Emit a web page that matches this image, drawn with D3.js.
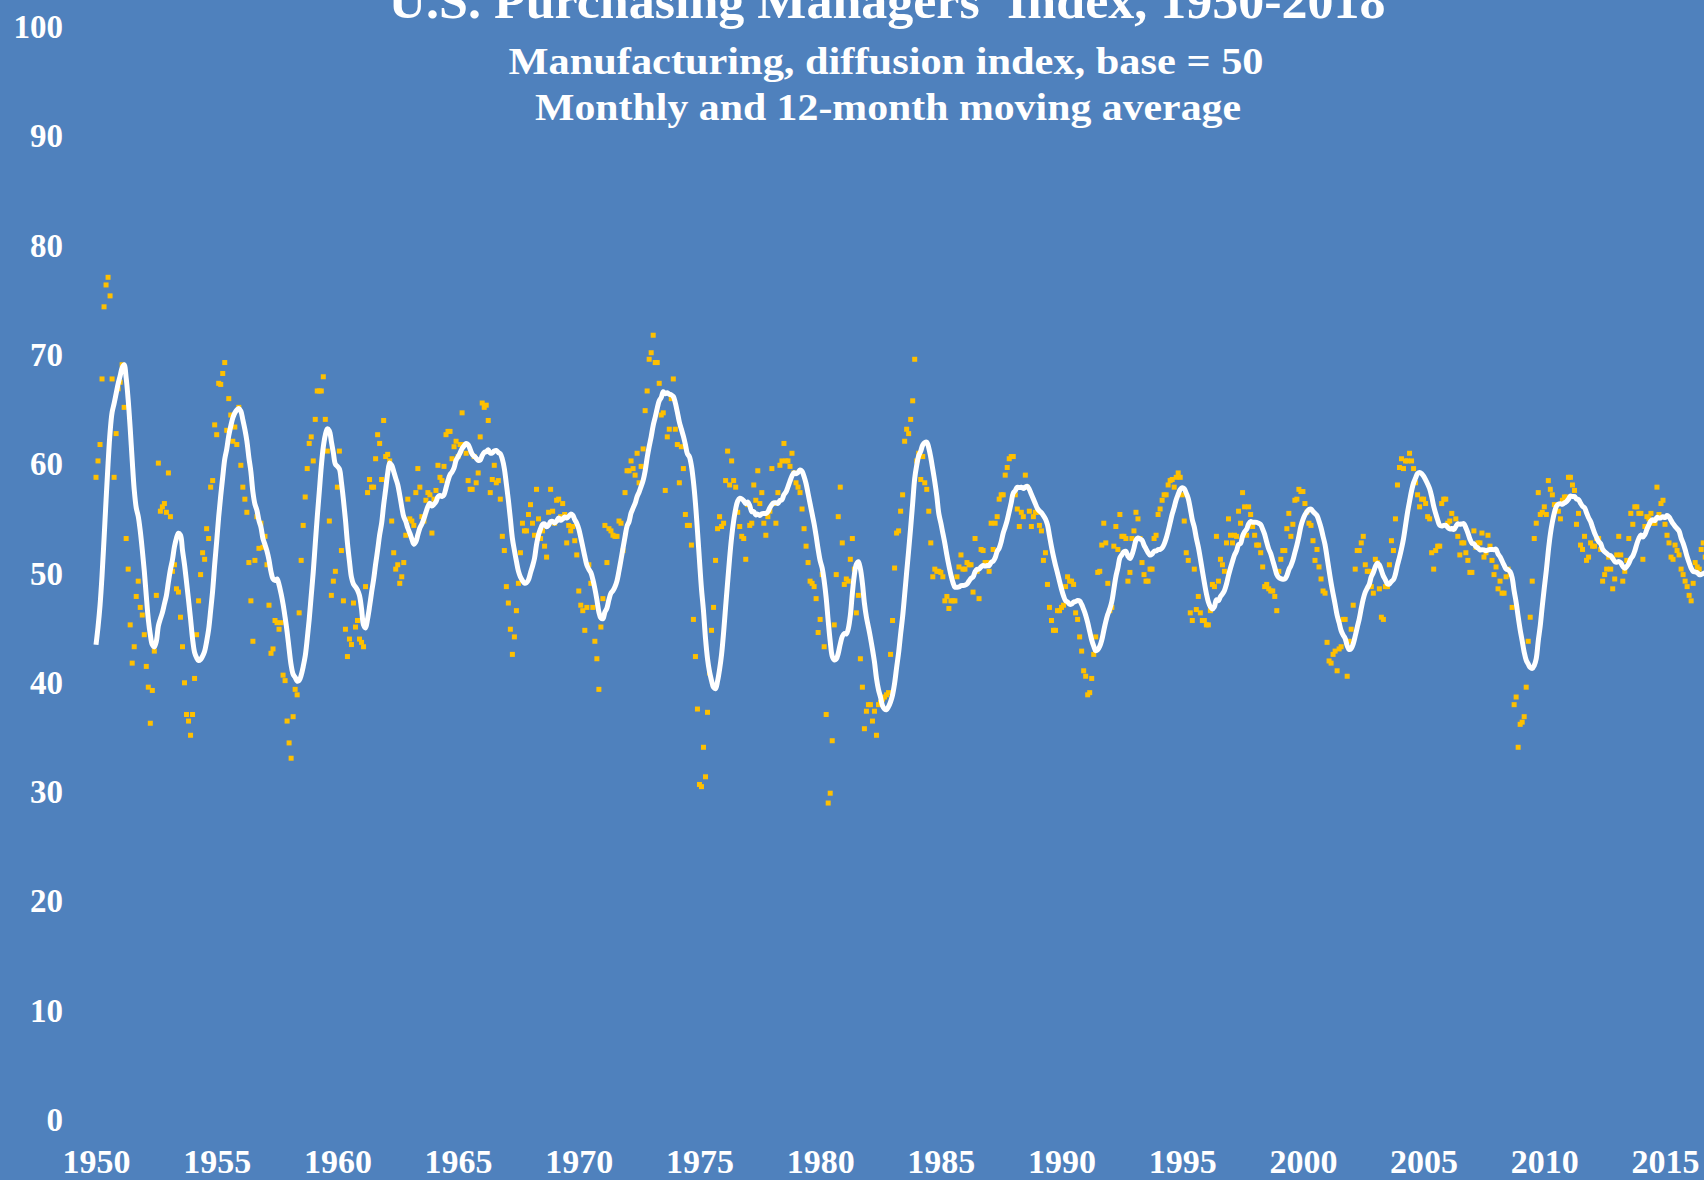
<!DOCTYPE html>
<html lang="en">
<head>
    <meta charset="UTF-8">
    <title>U.S. Purchasing Managers' Index, 1950-2018</title>
    <style>
        body{
            margin: 0;
            background-color: #4f81bd;
            overflow: hidden;
        }
        svg{
            display: block;
        }
        .tick text{
            fill: #fff;
            font-family: "Liberation Serif", serif;
            font-weight: bold;
        }
    </style>
    <script src="https://cdn.jsdelivr.net/npm/d3@7"></script>
</head>
<body>
    <script>
        // monthly PMI readings, Jan of first year to Dec of last year of each decade
        // 1949 is only used to start the 12-month average, it is not drawn
        const pmi1949=[44,41,38,35,34,34,37,41,46,49,52,56];
        const pmi1950s=[
            58.8,60.3,61.8,67.8,74.4,76.4,77.1,75.4,67.8,58.8,62.8,66.9,
            67.5,69.1,65.2,53.2,50.4,45.3,41.8,43.3,47.9,49.3,46.9,46.2,
            44.4,41.5,39.6,36.3,39.3,42.9,48.0,60.1,55.7,56.1,56.4,55.6,
            59.2,55.2,50.2,50.8,48.6,48.3,46.0,43.3,40.0,37.1,36.5,35.2,
            37.1,40.4,44.4,47.5,49.9,51.9,51.3,54.1,53.2,57.9,58.5,63.6,
            62.7,67.4,67.3,68.3,69.3,63.1,66.0,64.5,62.1,63.4,61.8,65.2,
            59.9,57.9,56.8,55.6,51.0,47.5,43.8,51.2,55.2,52.3,54.6,52.4,
            53.4,50.8,47.1,42.7,43.1,45.7,45.5,44.9,45.5,40.7,40.2,36.5,
            34.5,33.1,36.9,39.4,38.9,46.4,51.2,54.4,57.0,59.6,61.9,62.5,
            60.3,64.1,66.7,66.7,66.7,68.0,64.1,61.2,54.8,48.0,49.3,50.2
        ];
        const pmi1960s=[
            57.9,61.2,52.1,47.5,44.9,42.4,44.0,43.5,47.3,45.1,45.7,44.0,
            43.7,43.3,48.8,57.4,58.6,57.9,57.9,60.5,62.7,61.9,58.6,64.0,
            60.7,60.9,60.3,54.8,51.9,50.4,50.8,49.1,49.7,51.0,53.5,56.8,
            55.0,54.8,54.4,57.4,59.6,57.9,55.2,54.8,56.7,57.4,57.2,53.7,
            56.8,57.6,59.9,58.8,58.5,59.8,62.7,63.0,63.0,60.5,61.6,62.1,
            60.7,61.8,64.7,61.8,61.0,58.5,57.7,57.7,60.7,58.3,59.2,62.5,
            65.6,65.2,65.4,64.0,57.4,58.6,59.9,58.3,58.5,56.8,53.4,52.1,
            48.8,47.3,44.9,42.6,44.2,46.6,49.1,51.9,54.6,53.9,53.9,55.4,
            56.3,54.6,53.5,57.7,55.0,53.2,53.9,52.5,51.5,55.6,57.7,55.7,
            54.6,56.7,56.8,55.2,56.4,55.4,52.8,54.4,53.9,54.3,53.0,51.7
        ];
        const pmi1970s=[
            48.4,47.1,46.6,44.8,46.9,50.8,49.1,46.9,43.8,42.2,39.4,45.1,
            47.7,54.4,51.0,54.1,53.9,53.5,53.4,53.4,54.8,54.6,52.1,57.4,
            59.4,59.4,60.3,59.6,59.0,61.0,58.3,59.8,61.4,64.9,66.7,69.6,
            70.2,71.8,69.3,69.3,67.4,64.5,64.7,57.6,62.5,63.2,66.0,67.8,
            63.2,61.8,58.3,61.6,59.6,55.4,54.4,54.4,52.6,45.8,42.4,37.6,
            30.7,30.5,34.1,31.4,37.3,40.9,44.8,46.9,51.2,54.1,55.2,54.3,
            54.6,58.5,61.2,58.1,60.3,58.5,57.9,55.6,54.3,53.4,53.2,51.3,
            56.3,54.4,54.6,58.1,56.7,59.4,56.4,57.4,54.6,53.5,55.2,55.7,
            59.6,56.4,54.6,57.4,59.9,60.3,61.9,60.3,60.3,59.8,61.0,59.2,
            58.3,57.9,57.4,55.9,54.1,52.5,51.0,49.3,49.1,48.8,47.7,44.6
        ];
        const pmi1980s=[
            45.8,49.9,43.3,37.1,29.0,29.9,34.7,45.3,49.9,55.2,57.9,52.8,
            49.0,49.5,49.3,51.3,53.2,50.4,46.4,48.0,42.2,39.6,35.8,37.4,
            38.0,38.0,36.5,37.4,35.2,38.0,38.2,38.5,38.7,38.9,39.1,42.6,
            45.7,50.5,53.7,53.9,55.7,57.2,62.1,63.2,62.8,64.1,65.8,69.6,
            60.3,61.0,58.6,60.7,58.3,57.7,55.7,52.8,49.7,50.4,50.2,50.2,
            50.1,49.7,47.5,47.9,46.8,47.5,47.5,47.5,49.7,50.6,51.7,50.4,
            50.4,51.0,50.8,50.8,48.3,53.2,50.2,47.7,52.2,52.1,51.0,51.0,
            50.2,54.6,52.2,54.6,55.2,56.8,57.2,57.2,59.0,59.7,60.5,60.7,
            60.7,57.2,55.9,54.3,55.6,55.2,59.0,57.9,55.7,54.3,55.2,55.6,
            55.6,54.4,53.9,51.2,51.9,49.0,46.9,45.7,44.8,44.8,46.6,46.6
        ];
        const pmi1990s=[
            46.9,47.1,48.8,49.7,49.3,49.3,49.0,46.4,45.8,44.2,42.9,41.1,
            40.6,38.9,39.1,40.4,42.6,44.2,50.1,50.2,52.6,54.6,52.8,49.1,
            46.6,46.9,52.5,54.3,52.2,55.4,53.4,53.4,53.2,49.3,50.1,53.2,
            53.9,55.6,55.0,53.2,51.0,49.9,49.3,49.3,50.4,50.4,53.2,53.5,
            55.4,55.9,56.7,57.2,57.2,58.1,58.5,58.6,57.9,58.8,59.2,58.8,
            57.2,54.8,51.9,51.2,46.4,45.7,50.4,46.7,47.9,46.4,45.7,45.7,
            45.3,45.3,46.6,49.0,48.8,53.4,49.3,51.3,50.8,50.2,52.8,55.0,
            53.5,52.8,53.5,53.4,55.7,54.6,57.4,56.1,53.5,56.1,55.4,54.3,
            53.5,52.6,52.6,51.9,50.6,48.8,49.0,48.6,48.4,48.4,47.9,46.6,
            50.2,51.3,52.1,52.1,54.1,55.5,53.4,54.5,56.7,56.8,57.7,57.5
        ];
        const pmi2000s=[
            57.5,56.4,55.6,54.6,54.4,53.0,51.2,52.2,50.6,49.5,48.4,48.2,
            43.7,42.0,41.8,42.6,42.9,41.1,43.1,43.3,45.8,45.8,40.6,43.8,
            44.9,47.1,50.4,52.1,52.1,52.8,53.4,50.8,50.2,50.2,48.8,48.2,
            51.3,51.0,48.6,46.0,45.8,48.8,48.8,50.8,53.0,52.1,55.0,58.1,
            59.7,60.5,59.6,60.3,60.3,61.0,60.3,59.6,58.3,57.2,56.1,56.8,
            56.8,56.4,55.2,55.0,51.9,50.4,52.1,52.5,52.5,56.4,56.8,56.8,
            54.6,54.8,55.5,54.1,55.0,53.4,51.7,52.8,52.8,51.9,51.2,50.1,
            50.1,53.9,52.4,52.8,52.8,53.7,51.5,51.9,53.5,52.5,51.2,49.9,
            50.6,48.6,49.3,48.2,48.2,49.7,50.4,49.9,46.9,38.0,38.7,34.1,
            36.2,36.4,36.9,39.6,43.8,46.0,49.3,53.2,54.6,57.4,55.4,55.6
        ];
        const pmi2010s=[
            56.1,55.4,58.5,57.7,57.2,56.3,56.3,55.7,55.0,56.7,57.0,57.0,
            58.8,58.8,58.1,57.6,54.5,55.5,52.6,52.2,53.4,51.2,51.5,52.8,
            52.5,52.5,53.2,53.2,52.2,49.3,49.9,50.4,51.5,50.4,48.6,49.5,
            51.7,53.4,51.7,49.3,50.2,51.2,53.2,55.5,54.5,56.1,56.1,55.5,
            55.5,51.3,54.3,55.2,55.0,55.5,54.6,54.6,57.9,55.4,56.4,56.7,
            54.5,53.5,52.8,51.5,51.3,52.6,52.1,51.7,50.4,49.9,49.3,48.8,
            48.0,47.5,49.1,51.0,50.6,50.4,52.2,52.8,51.5,51.9
        ];
        const startYear=1950;
        const yearTicks=d3.range(1950,2016,5);
        const valueTicks=d3.range(0,101,10);
        const titleLines=[
            "U.S. Purchasing Managers' Index, 1950-2018",
            "Manufacturing, diffusion index, base = 50",
            "Monthly and 12-month moving average"
        ];

        const width=1704;
        const height=1180;
        const svg=d3.select("body").append("svg")
            .attr("width",width)
            .attr("height",height);

        svg.append("rect")
            .attr("width",width)
            .attr("height",height)
            .attr("fill","#4f81bd");

        // monthly points plus their trailing 12-month average
        const monthly=[].concat(pmi1950s,pmi1960s,pmi1970s,pmi1980s,pmi1990s,pmi2000s,pmi2010s);
        const all=pmi1949.concat(monthly);
        const data=monthly.map((v,i)=>({
            t: startYear+i/12,
            pmi: v,
            avg: d3.mean(all.slice(i+1,i+13))
        }));

        // the plot runs past the right edge of the picture
        const xScale=d3.scaleLinear()
            .domain([1950,2015])
            .range([96,1665]);
        const yScale=d3.scaleLinear()
            .domain([0,100])
            .range([1120,27]);

        const yAxis=d3.axisLeft(yScale)
            .tickValues(valueTicks)
            .tickSize(0)
            .tickPadding(0);
        svg.append("g")
            .attr("transform","translate(63,0)")
            .call(yAxis)
            .call(g=>g.select(".domain").remove())
            .selectAll("text")
            .style("font-size","33px");

        const xAxis=d3.axisBottom(xScale)
            .tickValues(yearTicks)
            .tickFormat(d3.format("d"))
            .tickSize(0)
            .tickPadding(0);
        svg.append("g")
            .attr("transform","translate(0,1149)")
            .call(xAxis)
            .call(g=>g.select(".domain").remove())
            .selectAll("text")
            .style("font-size","34px");

        // monthly dots
        svg.append("g")
            .selectAll("rect")
            .data(data)
            .enter()
            .append("rect")
            .attr("x",d=>xScale(d.t)-2.5)
            .attr("y",d=>yScale(d.pmi)-2.5)
            .attr("width",5)
            .attr("height",5)
            .attr("fill","#ffc000");

        // moving average line
        const lineGen=d3.line()
            .x(d=>xScale(d.t))
            .y(d=>yScale(d.avg))
            .curve(d3.curveCatmullRom);
        svg.append("path")
            .datum(data)
            .attr("d",lineGen)
            .attr("fill","none")
            .attr("stroke","#fff")
            .attr("stroke-width",5)
            .attr("stroke-linejoin","round");

        // titles
        const titles=[
            {y:18,size:50,len:997,x:887},
            {y:74,size:38,len:755,x:886},
            {y:120,size:38,len:706,x:888}
        ];
        svg.append("g")
            .selectAll("text")
            .data(titles)
            .enter()
            .append("text")
            .attr("x",d=>d.x)
            .attr("y",d=>d.y)
            .attr("text-anchor","middle")
            .attr("textLength",d=>d.len)
            .attr("lengthAdjust","spacingAndGlyphs")
            .style("font-family","'Liberation Serif', serif")
            .style("font-weight","bold")
            .style("font-size",d=>d.size+"px")
            .attr("fill","#fff")
            .text((d,i)=>titleLines[i]);
    </script>
</body>
</html>
